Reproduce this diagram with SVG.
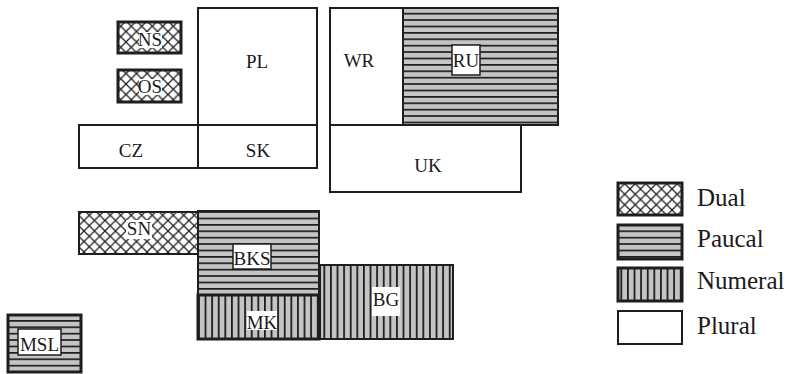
<svg xmlns="http://www.w3.org/2000/svg" width="791" height="374" viewBox="0 0 791 374">
<defs>
<pattern id="dual" patternUnits="userSpaceOnUse" width="10.5" height="10.5">
<rect width="10.5" height="10.5" fill="#fff"/>
<path d="M0,0 L10.5,10.5 M10.5,0 L0,10.5 M-1,9.5 L1,11.5 M9.5,-1 L11.5,1" stroke="#222" stroke-width="1.3" fill="none"/>
</pattern>
<pattern id="paucal" patternUnits="userSpaceOnUse" width="10" height="6.4">
<rect width="10" height="6.4" fill="#c4c4c4"/>
<rect y="0" width="10" height="1.7" fill="#1e1e1e"/>
</pattern>
<pattern id="numeral" patternUnits="userSpaceOnUse" width="6.6" height="10">
<rect width="6.6" height="10" fill="#c4c4c4"/>
<rect x="0" width="1.8" height="10" fill="#1e1e1e"/>
</pattern>
</defs>
<style>
.box{stroke:#1e1e1e;stroke-width:2;}
.thick{stroke-width:3;}
.pl{fill:#fff;}
.du{fill:url(#dual);}
.pa{fill:url(#paucal);}
.nu{fill:url(#numeral);}
.lbl{fill:#fff;}
.lblb{fill:#fff;stroke:#1e1e1e;stroke-width:1.5;}
text{font-family:"Liberation Serif","Times New Roman",serif;fill:#1a1a1a;}
.t{font-size:19px;text-anchor:middle;}
.lg{font-size:25px;}
</style>
<rect width="791" height="374" fill="#fff"/>

<g id="NS">
<rect class="box du thick" x="118" y="22" width="63" height="31"/>
<rect class="lbl" x="139" y="32" width="23" height="16"/>
<text class="t" x="150" y="46">NS</text>
</g>
<g id="OS">
<rect class="box du thick" x="118" y="70" width="63" height="32"/>
<rect class="lbl" x="139" y="79" width="23" height="16"/>
<text class="t" x="150" y="93">OS</text>
</g>
<g id="PL">
<rect class="box pl" x="198" y="8" width="119" height="117"/>
<text class="t" x="257" y="68">PL</text>
</g>
<g id="CZ">
<rect class="box pl" x="79" y="125" width="119" height="43"/>
<text class="t" x="131" y="157">CZ</text>
</g>
<g id="SK">
<rect class="box pl" x="198" y="125" width="119" height="43"/>
<text class="t" x="258" y="157">SK</text>
</g>
<g id="WR">
<rect class="box pl" x="330" y="8" width="73" height="117"/>
<text class="t" x="359" y="67">WR</text>
</g>
<g id="RU">
<rect class="box pa" x="403" y="8" width="155" height="117"/>
<rect class="lblb" x="452" y="45" width="28" height="30"/>
<text class="t" x="466" y="67">RU</text>
</g>
<g id="UK">
<rect class="box pl" x="330" y="125" width="191" height="67"/>
<text class="t" x="428" y="172">UK</text>
</g>
<g id="SN">
<rect class="box du" x="79" y="212" width="119" height="42"/>
<rect class="lbl" x="126" y="220" width="26" height="19"/>
<text class="t" x="139" y="235">SN</text>
</g>
<g id="BG">
<rect class="box nu" x="320" y="265" width="133" height="74"/>
<rect class="lbl" x="372" y="287" width="28" height="29"/>
<text class="t" x="386" y="306">BG</text>
</g>
<g id="BKS">
<rect class="box pa" x="198" y="211" width="121" height="84"/>
<rect class="lblb" x="233" y="244" width="38" height="25"/>
<text class="t" x="252" y="265">BKS</text>
</g>
<g id="MK">
<rect class="box nu thick" x="198" y="295" width="121" height="44"/>
<rect class="lbl" x="247" y="311" width="30" height="19"/>
<text class="t" x="262" y="329">MK</text>
</g>
<g id="MSL">
<rect class="box pa thick" x="8" y="315" width="73" height="57"/>
<rect class="lblb" x="18" y="329" width="43" height="26"/>
<text class="t" x="39.5" y="351">MSL</text>
</g>

<g id="legend">
<rect class="box du thick" x="618" y="183" width="64" height="32"/>
<text class="lg" x="697" y="206">Dual</text>
<rect class="box pa thick" x="618" y="225" width="64" height="34"/>
<text class="lg" x="697" y="247">Paucal</text>
<rect class="box nu thick" x="618" y="268" width="64" height="33"/>
<text class="lg" x="697" y="289">Numeral</text>
<rect class="box pl" x="618" y="311" width="64" height="33"/>
<text class="lg" x="697" y="334">Plural</text>
</g>
<g id="connectors"/>
</svg>
